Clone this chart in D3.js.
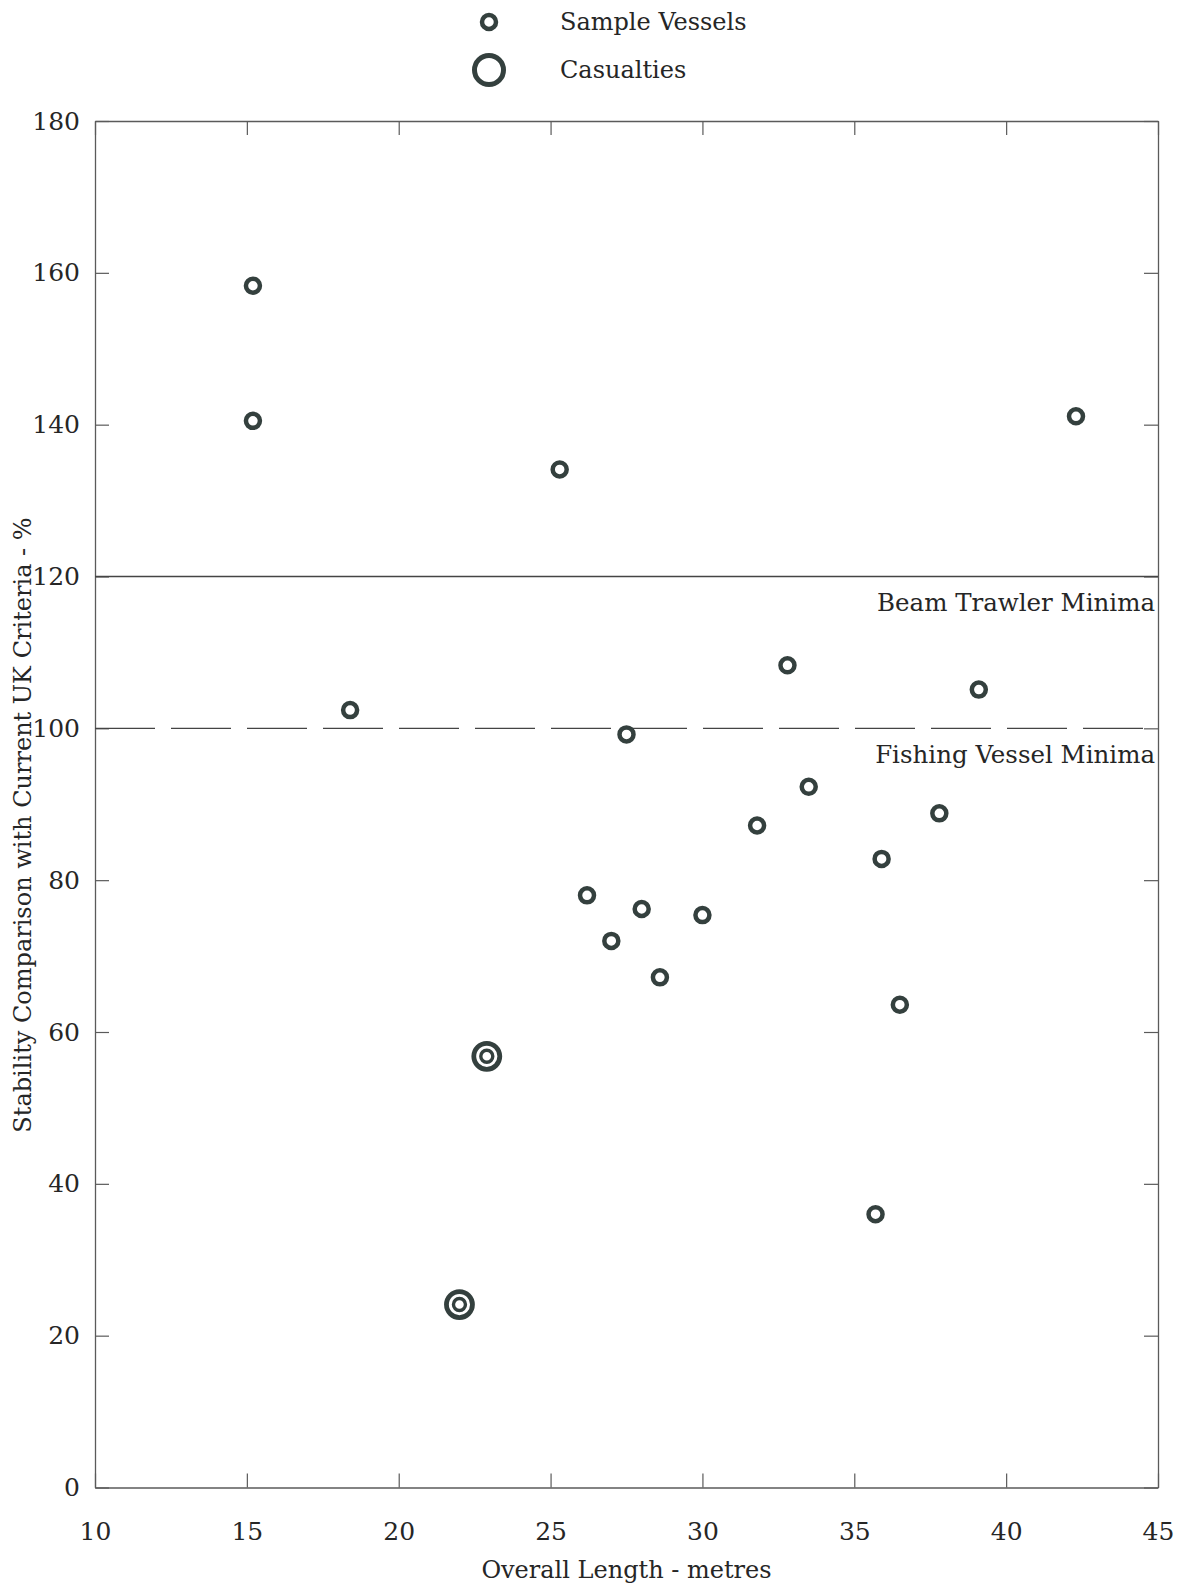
<!DOCTYPE html>
<html>
<head>
<meta charset="utf-8">
<title>Stability Comparison</title>
<script src="https://cdn.jsdelivr.net/npm/d3@7"></script>
<style>
  body { margin: 0; background: #fff; }
  svg text { font-family: "DejaVu Serif", serif; fill: #262626; }
</style>
</head>
<body>
<div id="chart"></div>
<script>
// Data
const sampleLength = [15.2, 15.2, 25.3, 42.3, 18.4, 32.8, 39.1, 27.5, 33.5, 31.8, 37.8, 35.9, 26.2, 28.0, 30.0, 27.0, 28.6, 36.5, 35.7];
const sampleStability = [158.3, 140.5, 134.1, 141.1, 102.4, 108.3, 105.1, 99.2, 92.3, 87.2, 88.8, 82.8, 78.0, 76.2, 75.4, 72.0, 67.2, 63.6, 36.0];
const casualtyLength = [22.9, 22.0];
const casualtyStability = [56.8, 24.1];
const xTicks = [10, 15, 20, 25, 30, 35, 40, 45];
const yTicks = [0, 20, 40, 60, 80, 100, 120, 140, 160, 180];
const beamTrawlerMin = 120;
const fishingVesselMin = 100;

const W = 1178, H = 1586;
const margin = {top: 121, right: 20, bottom: 98.5, left: 95};
const ink = "#34403e";

const svg = d3.select("#chart").append("svg")
  .attr("width", W)
  .attr("height", H);

const x = d3.scaleLinear().domain([10, 45]).range([margin.left, W - margin.right]);
const y = d3.scaleLinear().domain([0, 180]).range([H - margin.bottom, margin.top]);

// Axes (ticks point inward on all four sides)
function styleAxis(g) {
  g.selectAll("path.domain").attr("stroke", "#5a5a5a").attr("stroke-width", 1.3);
  g.selectAll(".tick line").attr("stroke", "#5a5a5a").attr("stroke-width", 1.2);
  g.selectAll(".tick text").attr("font-size", 25).attr("font-family", "DejaVu Serif").attr("fill", "#262626");
}

svg.append("g")
  .attr("transform", `translate(0,${y(0)})`)
  .call(d3.axisBottom(x).tickValues(xTicks).tickSize(-14).tickSizeOuter(0).tickPadding(35))
  .call(styleAxis);

svg.append("g")
  .attr("transform", `translate(0,${y(180)})`)
  .call(d3.axisTop(x).tickValues(xTicks).tickSize(-14).tickSizeOuter(0).tickFormat(""))
  .call(styleAxis);

svg.append("g")
  .attr("transform", `translate(${x(10)},0)`)
  .call(d3.axisLeft(y).tickValues(yTicks).tickSize(-14).tickSizeOuter(0).tickPadding(15))
  .call(styleAxis);

svg.append("g")
  .attr("transform", `translate(${x(45)},0)`)
  .call(d3.axisRight(y).tickValues(yTicks).tickSize(-14).tickSizeOuter(0).tickFormat(""))
  .call(styleAxis);

// Minima lines
svg.append("line")
  .attr("x1", x(10)).attr("x2", x(45))
  .attr("y1", y(beamTrawlerMin)).attr("y2", y(beamTrawlerMin))
  .attr("stroke", "#444").attr("stroke-width", 1.3);

svg.append("line")
  .attr("x1", x(10)).attr("x2", x(45))
  .attr("y1", y(fishingVesselMin)).attr("y2", y(fishingVesselMin))
  .attr("stroke", "#444").attr("stroke-width", 1.3)
  .attr("stroke-dasharray", "60,16");

svg.append("text")
  .attr("x", x(45) - 3).attr("y", y(beamTrawlerMin) + 34)
  .attr("text-anchor", "end").attr("font-size", 24.5)
  .text("Beam Trawler Minima");

svg.append("text")
  .attr("x", x(45) - 3).attr("y", y(fishingVesselMin) + 35)
  .attr("text-anchor", "end").attr("font-size", 24.5)
  .text("Fishing Vessel Minima");

// Sample vessels
const samples = sampleLength.map((d, i) => ({len: d, stab: sampleStability[i]}));
svg.selectAll("circle.sample")
  .data(samples)
  .enter().append("circle")
  .attr("class", "sample")
  .attr("cx", d => x(d.len))
  .attr("cy", d => y(d.stab))
  .attr("r", 7)
  .attr("fill", "#fff")
  .attr("stroke", ink)
  .attr("stroke-width", 4.5);

// Casualties: double ring
const casualties = casualtyLength.map((d, i) => ({len: d, stab: casualtyStability[i]}));
const cas = svg.selectAll("g.casualty")
  .data(casualties)
  .enter().append("g")
  .attr("class", "casualty")
  .attr("transform", d => `translate(${x(d.len)},${y(d.stab)})`);
cas.append("circle").attr("r", 13).attr("fill", "#fff").attr("stroke", ink).attr("stroke-width", 4.8);
cas.append("circle").attr("r", 6).attr("fill", "#fff").attr("stroke", ink).attr("stroke-width", 3.4);

// Legend
const legend = svg.append("g");
legend.append("circle")
  .attr("cx", 489).attr("cy", 22).attr("r", 7)
  .attr("fill", "#fff").attr("stroke", ink).attr("stroke-width", 4.5);
legend.append("text").attr("x", 560).attr("y", 30).attr("font-size", 24).text("Sample Vessels");
legend.append("circle")
  .attr("cx", 489).attr("cy", 70).attr("r", 14.5)
  .attr("fill", "#fff").attr("stroke", ink).attr("stroke-width", 5);
legend.append("text").attr("x", 560).attr("y", 78).attr("font-size", 24).text("Casualties");

// Axis titles
svg.append("text")
  .attr("x", (x(10) + x(45)) / 2).attr("y", 1578)
  .attr("text-anchor", "middle").attr("font-size", 24)
  .text("Overall Length - metres");

svg.append("text")
  .attr("transform", `translate(31,825) rotate(-90)`)
  .attr("text-anchor", "middle").attr("font-size", 24)
  .text("Stability Comparison with Current UK Criteria - %");
</script>
</body>
</html>
